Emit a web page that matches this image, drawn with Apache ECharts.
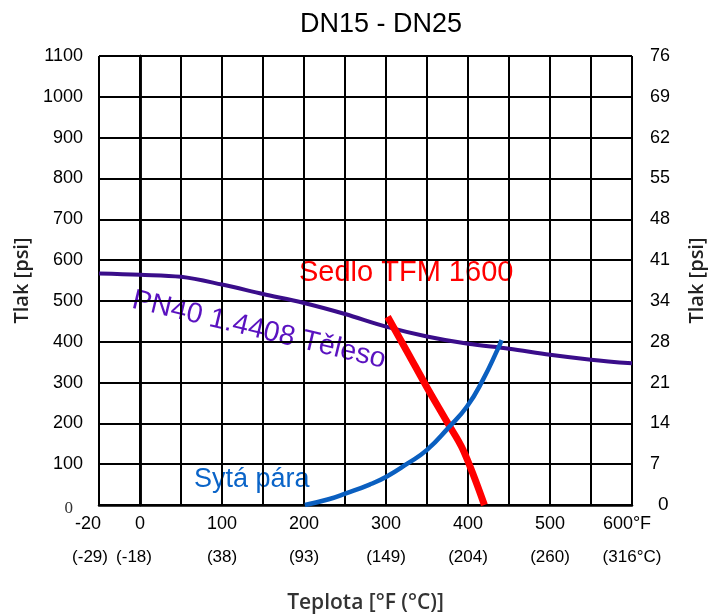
<!DOCTYPE html>
<html>
<head>
<meta charset="utf-8">
<script src="https://cdn.jsdelivr.net/npm/echarts@6/dist/echarts.min.js"></script>
<style>html,body{margin:0;padding:0;background:#fff}#c{width:710px;height:616px}</style>
</head>
<body>
<div id="c"></div>
<script>
// ---- data ----
const xTickValues = [-50, 0, 100, 200, 300, 400, 500, 600];
const xTickF = ['-20', '0', '100', '200', '300', '400', '500', '600°F'];
const xTickC = ['(-29)', '(-18)', '(38)', '(93)', '(149)', '(204)', '(260)', '(316°C)'];
const leftTicks = ['0', '100', '200', '300', '400', '500', '600', '700', '800', '900', '1000', '1100'];
const rightTicks = ['0', '7', '14', '21', '28', '34', '41', '48', '55', '62', '69', '76'];

const bodyTemp = [-50, 0, 50, 100, 150, 200, 250, 300, 350, 400, 450, 500, 550, 600];
const bodyPsi  = [567, 564, 559, 540, 517, 495, 468, 437, 413, 395, 383, 368, 356, 347];

const seatTemp = [302, 326, 350, 374, 394, 420];
const seatPsi  = [461, 375, 288, 205, 135, 0];

const steamTemp = [201, 230, 252, 280, 301, 325, 350, 376, 399, 418, 437, 441];
const steamPsi  = [0, 14, 29, 50, 70, 100, 135, 189, 242, 306, 385, 404];

const pairs = (xs, ys) => xs.map((x, i) => [x, ys[i]]);

const chart = echarts.init(document.getElementById('c'));
const FONT = 'Liberation Sans, Arial, sans-serif';

chart.setOption({
  animation: false,
  backgroundColor: '#fff',
  title: {
    text: 'DN15 - DN25', left: 376, top: 6, textAlign: 'center',
    textStyle: { fontFamily: FONT, fontSize: 27, fontWeight: 'normal', color: '#000' }
  },
  grid: { left: 99, right: 78, top: 56, bottom: 111, outerBoundsMode: 'none', containLabel: false },
  xAxis: [{
    type: 'value', min: -50, max: 600, interval: 50,
    axisLine: { show: true, lineStyle: { color: '#000', width: 2.5 } },
    axisTick: { show: false },
    splitLine: { show: true, lineStyle: { color: '#000', width: 2 } },
    name: 'Teplota [°F (°C)]', nameLocation: 'middle', nameGap: 88,
    nameTextStyle: { fontFamily: 'Open Sans, sans-serif', fontWeight: 600, fontSize: 21, color: '#333' },
    axisLabel: {
      margin: 10, fontFamily: FONT, fontSize: 18, color: '#000',
      formatter: v => {
        const i = xTickValues.indexOf(v);
        if (i < 0) return '';
        if (v === -50) return '{l|' + xTickF[i] + '}';
        if (v === 600) return '{r|' + xTickF[i] + '}';
        return xTickF[i];
      },
      rich: {
        l: { fontFamily: FONT, fontSize: 18, color: '#000', padding: [0, 22, 0, 0] },
        r: { fontFamily: FONT, fontSize: 18, color: '#000', padding: [0, 10, 0, 0] }
      }
    }
  }, {
    type: 'value', min: -50, max: 600, interval: 50, position: 'bottom', offset: 34,
    axisLine: { show: false }, axisTick: { show: false }, splitLine: { show: false },
    axisLabel: {
      margin: 10, fontFamily: FONT, fontSize: 17, color: '#000',
      formatter: v => {
        const i = xTickValues.indexOf(v);
        if (i < 0) return '';
        if (v === -50) return '{l|' + xTickC[i] + '}';
        if (v === 0) return '{m|' + xTickC[i] + '}';
        return xTickC[i];
      },
      rich: {
        l: { fontFamily: FONT, fontSize: 17, color: '#000', padding: [0, 18, 0, 0] },
        m: { fontFamily: FONT, fontSize: 17, color: '#000', padding: [0, 12, 0, 0] }
      }
    }
  }],
  yAxis: [{
    type: 'value', min: 0, max: 1100, interval: 100, position: 'left',
    axisLine: { show: true, lineStyle: { color: '#000', width: 2.5 } },
    axisTick: { show: false },
    splitLine: { show: true, lineStyle: { color: '#000', width: 2 } },
    name: 'Tlak [psi]', nameLocation: 'middle', nameGap: 63,
    nameTextStyle: { fontFamily: 'Open Sans, sans-serif', fontWeight: 600, fontSize: 20, color: '#222' },
    axisLabel: {
      margin: 16, fontFamily: FONT, fontSize: 18, color: '#000',
      formatter: v => {
        const i = Math.round(v / 100);
        if (i === 0) return '{z|' + leftTicks[0] + '}';
        return leftTicks[i];
      },
      rich: { z: { fontFamily: 'Liberation Serif, serif', fontSize: 17, color: '#333', padding: [7, 10, 0, 0] } }
    }
  }, {
    type: 'value', min: 0, max: 1100, interval: 100, position: 'right',
    axisLine: { show: true, lineStyle: { color: '#000', width: 2.5 } },
    axisTick: { show: false }, splitLine: { show: false },
    name: 'Tlak [psi]', nameLocation: 'middle', nameGap: 55, nameRotate: 90,
    nameTextStyle: { fontFamily: 'Open Sans, sans-serif', fontWeight: 600, fontSize: 20, color: '#222' },
    axisLabel: {
      margin: 18, fontFamily: FONT, fontSize: 18, color: '#000',
      formatter: v => {
        const i = Math.round(v / 100);
        if (i === 0) return '{z|' + rightTicks[0] + '}';
        return rightTicks[i];
      },
      rich: { z: { fontFamily: FONT, fontSize: 19, color: '#000', padding: [0, 0, 0, 8] } }
    }
  }],
  series: [{
    name: 'PN40 1.4408 Těleso', type: 'line', smooth: 0.35, showSymbol: false,
    data: pairs(bodyTemp, bodyPsi),
    lineStyle: { color: '#3a0d8a', width: 4 }, z: 3
  }, {
    name: 'Sedlo TFM 1600', type: 'line', smooth: 0.35, showSymbol: false,
    data: pairs(seatTemp, seatPsi),
    lineStyle: { color: '#ff0000', width: 7 }, z: 4
  }, {
    name: 'Sytá pára', type: 'line', smooth: 0.5, showSymbol: false,
    data: pairs(steamTemp, steamPsi),
    lineStyle: { color: '#0a5fc0', width: 4.5 }, z: 5
  }],
  graphic: [{
    type: 'text', left: 299, top: 258,
    style: { text: 'Sedlo TFM 1600', fontFamily: FONT, fontSize: 29, fill: '#ff0000' }
  }, {
    type: 'text', left: 194, top: 466,
    style: { text: 'Sytá pára', fontFamily: FONT, fontSize: 27, fill: '#0a64c8' }
  }, {
    type: 'text', x: 259, y: 330, rotation: -0.235,
    style: { text: 'PN40 1.4408 Těleso', fontFamily: FONT, fontSize: 28.5, fill: '#5a12c0', align: 'center', verticalAlign: 'middle' }
  }]
});
</script>
</body>
</html>
